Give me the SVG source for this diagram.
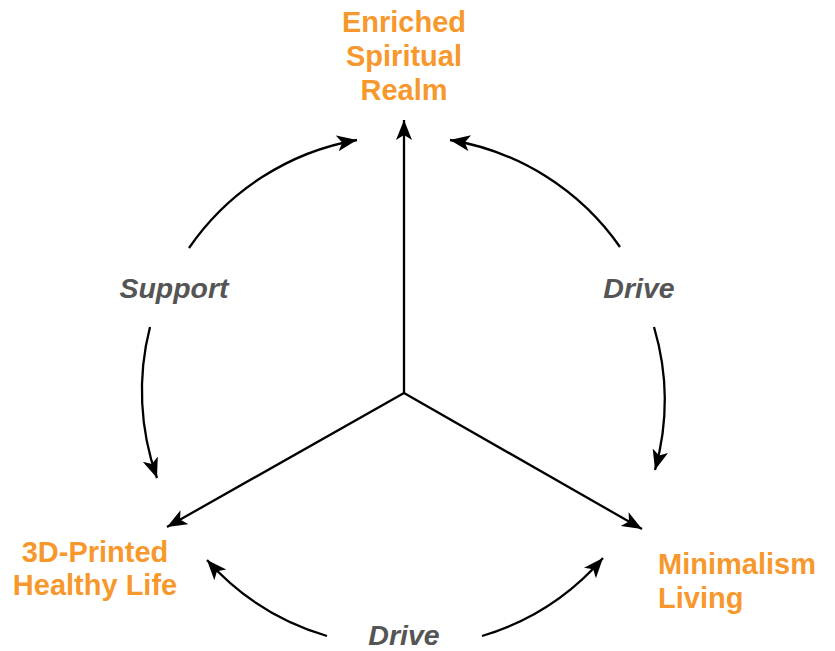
<svg xmlns="http://www.w3.org/2000/svg" width="835" height="651" viewBox="0 0 835 651">
<defs>
<style>
.node{font-family:"Liberation Sans",Arial,sans-serif;font-weight:bold;font-size:29px;fill:#F7982D}
.lbl{font-family:"Liberation Sans",Arial,sans-serif;font-weight:bold;font-style:italic;font-size:28.5px;fill:#555555}
.c{fill:none;stroke:#000;stroke-width:2.3;marker-end:url(#ah)}
</style>
<marker id="ah" markerUnits="userSpaceOnUse" markerWidth="22" markerHeight="18" refX="20" refY="8" orient="auto">
<path d="M0,0 L20,8 L0,16 L5,8 z" fill="#000"/>
</marker>
</defs>
<rect width="835" height="651" fill="#fff"/>
<g id="connectors">
<line class="c" x1="404" y1="393" x2="404" y2="120"/>
<line class="c" x1="404" y1="393" x2="167" y2="527"/>
<line class="c" x1="404" y1="393" x2="642" y2="529"/>
<path class="c" d="M189,248 A258,258 0 0 1 357,140"/>
<path class="c" d="M620,247 A258,258 0 0 0 450,140"/>
<path class="c" d="M654,327 A258,258 0 0 1 655,470"/>
<path class="c" d="M150,327 A258,258 0 0 0 157,478"/>
<path class="c" d="M327,636 A258,258 0 0 1 207,560"/>
<path class="c" d="M482,636 A258,258 0 0 0 603,558"/>
</g>
<g id="node-spiritual">
<text class="node" text-anchor="middle" x="404" y="32">Enriched</text>
<text class="node" text-anchor="middle" x="404" y="66">Spiritual</text>
<text class="node" text-anchor="middle" x="404" y="100">Realm</text>
</g>
<g id="node-health">
<text class="node" text-anchor="middle" x="95" y="562">3D-Printed</text>
<text class="node" text-anchor="middle" x="95" y="595">Healthy Life</text>
</g>
<g id="node-minimalism">
<text class="node" x="658" y="574">Minimalism</text>
<text class="node" x="658" y="608">Living</text>
</g>
<g id="labels">
<text class="lbl" text-anchor="middle" x="174" y="298">Support</text>
<text class="lbl" text-anchor="middle" x="639" y="298">Drive</text>
<text class="lbl" text-anchor="middle" x="404" y="645">Drive</text>
</g>
</svg>
